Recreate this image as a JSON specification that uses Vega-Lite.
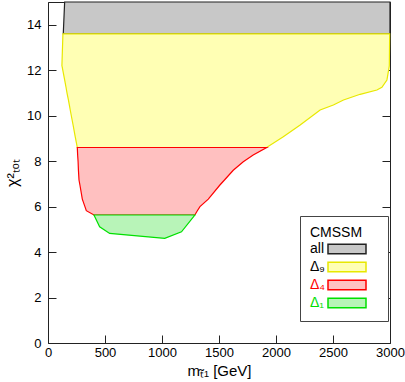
{
  "$schema": "https://vega.github.io/schema/vega-lite/v6.json",
  "width": 342,
  "height": 341,
  "autosize": "none",
  "padding": {"left": 48, "top": 2, "right": 15, "bottom": 39},
  "config": {
    "view": {"stroke": "#222", "strokeWidth": 1},
    "font": "Liberation Sans",
    "axis": {"domain": false, "ticks": false, "tickSize": 0, "grid": true, "gridColor": "#222", "gridOpacity": 1, "gridWidth": 1, "labelColor": "#000", "labelFontSize": 13, "titleFontSize": 15, "titleFontWeight": "normal", "titleColor": "#000", "labelFont": "Liberation Sans", "titleFont": "Liberation Sans", "zindex": 1, "labelFlush": false}
  },
  "datasets": {
    "all": [
      {"region": "all", "y": 13.6, "xl": 134, "xr": 3000},
      {"region": "all", "y": 15, "xl": 146, "xr": 3000}
    ],
    "d9": [
      {"region": "Δ₉", "y": 8.6, "xl": 257, "xr": 1918},
      {"region": "Δ₉", "y": 9.07, "xl": 239, "xr": 2064},
      {"region": "Δ₉", "y": 9.59, "xl": 220, "xr": 2212},
      {"region": "Δ₉", "y": 10.25, "xl": 195, "xr": 2387},
      {"region": "Δ₉", "y": 10.47, "xl": 187, "xr": 2503},
      {"region": "Δ₉", "y": 10.69, "xl": 179, "xr": 2592},
      {"region": "Δ₉", "y": 10.94, "xl": 169, "xr": 2738},
      {"region": "Δ₉", "y": 11.13, "xl": 162, "xr": 2885},
      {"region": "Δ₉", "y": 11.25, "xl": 158, "xr": 2929},
      {"region": "Δ₉", "y": 11.57, "xl": 146, "xr": 2973},
      {"region": "Δ₉", "y": 12.16, "xl": 124, "xr": 2993},
      {"region": "Δ₉", "y": 12.2, "xl": 122, "xr": 2994},
      {"region": "Δ₉", "y": 13.6, "xl": 131, "xr": 2997}
    ],
    "d4": [
      {"region": "Δ₄", "y": 5.63, "xl": 403, "xr": 1288},
      {"region": "Δ₄", "y": 5.82, "xl": 336, "xr": 1310},
      {"region": "Δ₄", "y": 6.0, "xl": 324, "xr": 1333},
      {"region": "Δ₄", "y": 6.33, "xl": 301, "xr": 1406},
      {"region": "Δ₄", "y": 6.95, "xl": 280, "xr": 1508},
      {"region": "Δ₄", "y": 7.17, "xl": 272, "xr": 1548},
      {"region": "Δ₄", "y": 7.6, "xl": 267, "xr": 1625},
      {"region": "Δ₄", "y": 7.97, "xl": 264, "xr": 1713},
      {"region": "Δ₄", "y": 8.27, "xl": 260, "xr": 1800},
      {"region": "Δ₄", "y": 8.6, "xl": 257, "xr": 1918}
    ],
    "d1": [
      {"region": "Δ₁", "x": 403, "ylo": 5.63, "yhi": 5.63},
      {"region": "Δ₁", "x": 453, "ylo": 5.11, "yhi": 5.63},
      {"region": "Δ₁", "x": 541, "ylo": 4.82, "yhi": 5.63},
      {"region": "Δ₁", "x": 1024, "ylo": 4.6, "yhi": 5.63},
      {"region": "Δ₁", "x": 1171, "ylo": 4.89, "yhi": 5.63},
      {"region": "Δ₁", "x": 1288, "ylo": 5.63, "yhi": 5.63}
    ]
  },
  "layer": [
    {
      "data": {"name": "all"},
      "mark": {"type": "area", "orient": "horizontal", "strokeWidth": 1.2},
      "encoding": {
        "y": {"field": "y", "type": "quantitative", "scale": {"domain": [0, 15], "nice": false, "zero": false},
          "axis": {"orient": "left", "title": "χ²ₜₒₜ", "titleFontSize": 16, "titlePadding": 6,
            "values": [0, 2, 4, 6, 8, 10, 12, 14], "format": "d",
            "gridDash": [8, 326, 8, 1000], "labelPadding": 7}},
        "x": {"field": "xl", "type": "quantitative", "scale": {"domain": [0, 3000], "nice": false, "zero": false},
          "axis": {"orient": "bottom", "title": "mₜ̃₁ [GeV]", "titlePadding": 4,
            "values": [0, 500, 1000, 1500, 2000, 2500, 3000], "format": "d",
            "gridDash": [8, 325, 8, 1000], "labelPadding": 3}},
        "x2": {"field": "xr"},
        "fill": {"field": "region", "type": "nominal",
          "scale": {"domain": ["all", "Δ₉", "Δ₄", "Δ₁"], "range": ["#c8c8c8", "#ffffb4", "#ffc0c0", "#b8f4b8"]},
          "legend": {"title": "CMSSM", "orient": "none", "legendX": 252, "legendY": 214, "padding": 10,
            "strokeColor": "#444", "fillColor": "white", "titleFontSize": 14, "titleFontWeight": "normal", "titleColor": "#000", "titlePadding": 2,
            "labelFontSize": 14, "symbolType": "M-3.8,-0.95H3.8V0.95H-3.8Z M5.6,0L5.6,0", "symbolSize": 100, "symbolStrokeWidth": 1.5, "rowPadding": 2,
            "encode": {
              "labels": {"update": {"x": {"value": 0}, "align": {"value": "left"},
                "fill": {"signal": "datum.value === 'Δ₄' ? '#ff0000' : datum.value === 'Δ₁' ? '#00dd00' : '#000000'"}}},
              "symbols": {"update": {"x": {"value": 37}}}
            }}},
        "stroke": {"field": "region", "type": "nominal",
          "scale": {"domain": ["all", "Δ₉", "Δ₄", "Δ₁"], "range": ["#222222", "#e8e800", "#ff0000", "#00e000"]},
          "legend": {"title": "CMSSM", "orient": "none", "legendX": 252, "legendY": 214, "padding": 10,
            "strokeColor": "#444", "fillColor": "white", "titleFontSize": 14, "titleFontWeight": "normal", "titleColor": "#000", "titlePadding": 2,
            "labelFontSize": 14, "symbolType": "M-3.8,-0.95H3.8V0.95H-3.8Z M5.6,0L5.6,0", "symbolSize": 100, "symbolStrokeWidth": 1.5, "rowPadding": 2,
            "encode": {
              "labels": {"update": {"x": {"value": 0}, "align": {"value": "left"},
                "fill": {"signal": "datum.value === 'Δ₄' ? '#ff0000' : datum.value === 'Δ₁' ? '#00dd00' : '#000000'"}}},
              "symbols": {"update": {"x": {"value": 37}}}
            }}}
      }
    },
    {
      "data": {"name": "d9"},
      "mark": {"type": "area", "orient": "horizontal", "strokeWidth": 1.2},
      "encoding": {
        "y": {"field": "y", "type": "quantitative",
          "axis": {"orient": "right", "title": null, "labels": false,
            "values": [0.5,1,1.5,2.5,3,3.5,4.5,5,5.5,6.5,7,7.5,8.5,9,9.5,10.5,11,11.5,12.5,13,13.5,14.5],
            "gridDash": [4, 334, 4, 1000]}},
        "x": {"field": "xl", "type": "quantitative",
          "axis": {"orient": "top", "title": null, "labels": false,
            "values": [100,200,300,400,600,700,800,900,1100,1200,1300,1400,1600,1700,1800,1900,2100,2200,2300,2400,2600,2700,2800,2900],
            "gridDash": [4, 333, 4, 1000]}},
        "x2": {"field": "xr"},
        "fill": {"field": "region", "type": "nominal"},
        "stroke": {"field": "region", "type": "nominal"}
      }
    },
    {
      "data": {"name": "d4"},
      "mark": {"type": "area", "orient": "horizontal", "strokeWidth": 1.2},
      "encoding": {
        "y": {"field": "y", "type": "quantitative", "axis": null},
        "x": {"field": "xl", "type": "quantitative", "axis": null},
        "x2": {"field": "xr"},
        "fill": {"field": "region", "type": "nominal"},
        "stroke": {"field": "region", "type": "nominal"}
      }
    },
    {
      "data": {"name": "d1"},
      "mark": {"type": "area", "orient": "vertical", "strokeWidth": 1.2},
      "encoding": {
        "x": {"field": "x", "type": "quantitative", "axis": null},
        "y": {"field": "ylo", "type": "quantitative", "axis": null},
        "y2": {"field": "yhi"},
        "fill": {"field": "region", "type": "nominal"},
        "stroke": {"field": "region", "type": "nominal"}
      }
    }
  ],
  "resolve": {"axis": {"x": "independent", "y": "independent"}}
}
